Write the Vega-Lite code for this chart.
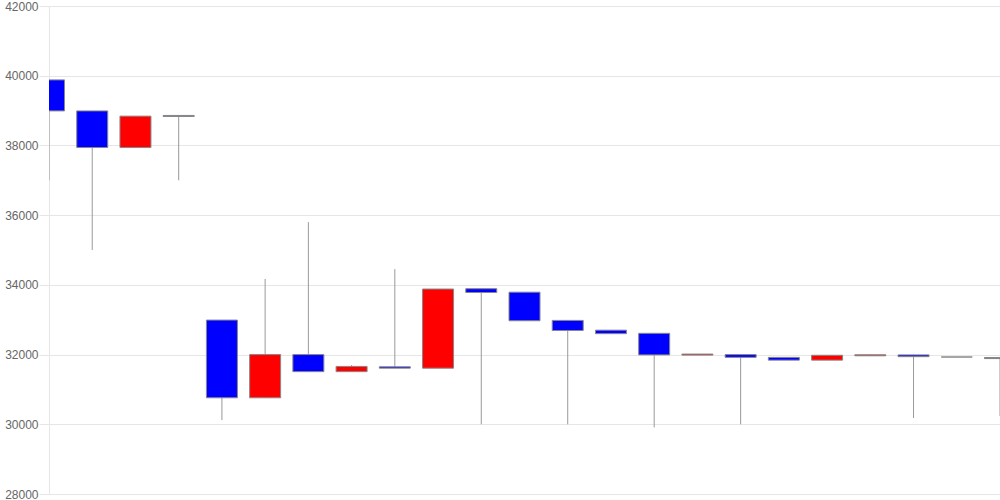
{
  "$schema": "https://vega.github.io/schema/vega-lite/v6.json",
  "width": 951,
  "height": 488,
  "autosize": {"type": "none"},
  "padding": {"left": 49, "top": 6, "right": 0, "bottom": 6},
  "background": "white",
  "config": {"view": {"stroke": null}},
  "data": {
    "values": [
      {"i": 0, "open": 39880, "close": 38990, "high": 39880, "low": 37000},
      {"i": 1, "open": 38990, "close": 37940, "high": 38990, "low": 35000},
      {"i": 2, "open": 37940, "close": 38840, "high": 38840, "low": 37940},
      {"i": 3, "open": 38860, "close": 38830, "high": 38860, "low": 37000},
      {"i": 4, "open": 32990, "close": 30760, "high": 32990, "low": 30120},
      {"i": 5, "open": 30760, "close": 32000, "high": 34170, "low": 30760},
      {"i": 6, "open": 32000, "close": 31510, "high": 35800, "low": 31510},
      {"i": 7, "open": 31510, "close": 31660, "high": 31700, "low": 31510},
      {"i": 8, "open": 31650, "close": 31610, "high": 34450, "low": 31610},
      {"i": 9, "open": 31610, "close": 33880, "high": 33880, "low": 31610},
      {"i": 10, "open": 33890, "close": 33780, "high": 33890, "low": 30000},
      {"i": 11, "open": 33790, "close": 32970, "high": 33790, "low": 32970},
      {"i": 12, "open": 32980, "close": 32690, "high": 32980, "low": 30000},
      {"i": 13, "open": 32700, "close": 32600, "high": 32700, "low": 32600},
      {"i": 14, "open": 32610, "close": 31990, "high": 32610, "low": 29910},
      {"i": 15, "open": 31985, "close": 32015, "high": 32015, "low": 31985},
      {"i": 16, "open": 32000, "close": 31920, "high": 32000, "low": 30000},
      {"i": 17, "open": 31920, "close": 31840, "high": 31920, "low": 31840},
      {"i": 18, "open": 31840, "close": 31980, "high": 31980, "low": 31840},
      {"i": 19, "open": 31965, "close": 31995, "high": 31995, "low": 31965},
      {"i": 20, "open": 31990, "close": 31940, "high": 31990, "low": 30180},
      {"i": 21, "open": 31930, "close": 31930, "high": 31930, "low": 31930},
      {"i": 22, "open": 31915, "close": 31885, "high": 31915, "low": 30240}
    ]
  },
  "encoding": {
    "x": {
      "field": "i",
      "type": "quantitative",
      "scale": {"domain": [0, 22], "nice": false, "zero": false, "padding": 0},
      "axis": null
    }
  },
  "layer": [
    {
      "mark": {"type": "rule", "color": "#999999", "strokeWidth": 1, "clip": true},
      "encoding": {
        "y": {
          "field": "low",
          "type": "quantitative",
          "scale": {"domain": [28000, 42000], "nice": false, "zero": false},
          "axis": {
            "values": [28000, 30000, 32000, 34000, 36000, 38000, 40000, 42000],
            "format": "d",
            "title": null,
            "grid": true,
            "gridColor": "#e6e6e6",
            "gridWidth": 1,
            "domain": true,
            "domainColor": "#e6e6e6",
            "ticks": true,
            "tickColor": "#e6e6e6",
            "tickSize": 10,
            "labelPadding": 1,
            "labelFont": "Liberation Sans",
            "labelFontSize": 12,
            "labelColor": "#666666",
            "labelFlush": false,
            "labelOverlap": false
          }
        },
        "y2": {"field": "high"}
      }
    },
    {
      "mark": {"type": "bar", "width": 31, "stroke": "#888888", "strokeWidth": 1, "clip": true},
      "encoding": {
        "y": {"field": "open", "type": "quantitative"},
        "y2": {"field": "close"},
        "fill": {
          "condition": {"test": "datum.close > datum.open", "value": "#ff0000"},
          "value": "#0000ff"
        }
      }
    }
  ]
}
